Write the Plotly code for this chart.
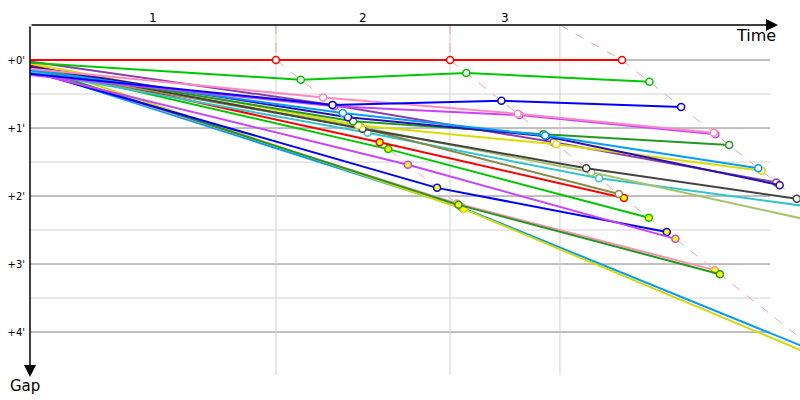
import plotly.graph_objects as go

# ---------------- data ----------------
# leader lap times (minutes) and lap boundary marks
lap_leader_times = [2.870, 4.901, 6.908]
lap_marks = [2.870, 4.901, 6.184]
lap_labels = ["1", "2", "3"]

tick_vals = [0, 1, 2, 3, 4]
tick_text = ["+0'", "+1'", "+2'", "+3'", "+4'"]

riders = ["R1", "R2", "R3", "R4", "R5", "R6", "R7", "R8", "R9", "R10", "R11",
          "R12", "R13", "R14", "R15", "R16", "R17", "R18", "R19", "R20", "R21", "R22"]
rider_colors = ["#ff0000", "#00c800", "#0000ff", "#ff88c4", "#c844ff", "#009cff",
                "#2a10b0", "#229922", "#dcdc00", "#8b40a8", "#444444", "#a4c46c",
                "#8a8a48", "#33c4cc", "#ff0000", "#00c800", "#c844ff", "#0000ff",
                "#229922", "#ff90b0", "#d8d800", "#009cff"]
marker_fill = ["white"] * 14 + ["#ffff00"] * 8
start_gap = [0.00, 0.04, 0.20, 0.13, 0.22, 0.15, 0.10, 0.12, 0.05, 0.02, 0.10,
             0.12, 0.14, 0.17, 0.08, 0.10, 0.18, 0.16, 0.10, 0.12, 0.04, 0.14]
gap_lap1 = [0.00, 0.29, 0.66, 0.55, 0.68, 0.78, 0.84, 0.90, 0.96, 0.66, 1.01,
            0.99, 1.00, 1.07, 1.21, 1.31, 1.54, 1.88, 2.13, 2.11, 2.19, 2.17]
gap_lap2 = [0.00, 0.19, 0.60, 0.79, 0.81, 1.11, 1.12, 1.09, 1.24, 1.21, 1.59,
            1.65, 1.97, 1.74, 2.03, 2.32, 2.63, 2.53, 3.15, 3.09, 4.46, 4.31]
gap_lap3 = [0.00, 0.32, 0.69, 1.07, 1.09, 1.59, 1.84, 1.25, 1.63, 1.80, 2.04,
            2.42, None, 2.15, None, None, None, None, None, None, None, None]

# ---------------- figure ----------------
X_MAX = 8.985
Y_TOP = -0.515
Y_BOT = 4.632
GRID_END = 8.635

fig = go.Figure()

# dashed lap lines: from the lap mark at the top, through the leader, to the last rider of that lap
for mark, lead, gaps in zip(lap_marks, lap_leader_times, [gap_lap1, gap_lap2, gap_lap3]):
    G = max(g for g in gaps if g is not None)
    fig.add_trace(go.Scatter(
        x=[mark, lead, lead + G], y=[Y_TOP, 0, G],
        mode="lines", line=dict(color="#ffa4a4", width=1, dash="dash"),
        hoverinfo="skip", showlegend=False))

# riders (drawn bottom-up so leaders are on top)
for i in reversed(range(len(riders))):
    xs = [0.0]
    ys = [start_gap[i]]
    for lead, g in zip(lap_leader_times, [gap_lap1[i], gap_lap2[i], gap_lap3[i]]):
        if g is None:
            break
        xs.append(lead + g)
        ys.append(g)
    op = [0] + [1] * (len(xs) - 1)
    fig.add_trace(go.Scatter(
        x=xs, y=ys, mode="lines+markers", name=riders[i],
        line=dict(color=rider_colors[i], width=2),
        marker=dict(size=7, color=marker_fill[i], opacity=op,
                    line=dict(color=rider_colors[i], width=1.5)),
        showlegend=False))

shapes = []
# horizontal grid
for v in [0.5, 1.5, 2.5, 3.5]:
    shapes.append(dict(type="line", xref="x", yref="y", x0=0, x1=GRID_END, y0=v, y1=v,
                       line=dict(color="#d3d3d3", width=1), layer="below"))
for v in tick_vals:
    shapes.append(dict(type="line", xref="x", yref="y", x0=0, x1=GRID_END, y0=v, y1=v,
                       line=dict(color="#808080", width=1), layer="below"))
# vertical lap marks
for m in lap_marks:
    shapes.append(dict(type="line", xref="x", yref="y", x0=m, x1=m, y0=Y_TOP, y1=Y_BOT,
                       line=dict(color="#d0d0d0", width=1), layer="below"))

annotations = []
# axis arrows (paper coordinates: plot area spans x 30..800 px, y 25..375 px)
annotations.append(dict(xref="paper", yref="paper", x=(778 - 30) / 770, y=1.0,
                        ax=-748, ay=0, axref="pixel", ayref="pixel", text="",
                        showarrow=True, arrowhead=2, arrowsize=1.6, arrowwidth=1.5,
                        arrowcolor="black", standoff=0))
annotations.append(dict(xref="paper", yref="paper", x=0.0, y=(375 - 377) / 350,
                        ax=0, ay=-352, axref="pixel", ayref="pixel", text="",
                        showarrow=True, arrowhead=2, arrowsize=1.6, arrowwidth=1.5,
                        arrowcolor="black", standoff=0))
annotations.append(dict(xref="paper", yref="paper", x=0.971, y=0.971, text="Time",
                        showarrow=False, xanchor="right", yanchor="middle",
                        font=dict(size=16, color="black", family="DejaVu Sans")))
annotations.append(dict(xref="paper", yref="paper", x=-0.0065, y=-0.03, text="Gap",
                        showarrow=False, xanchor="center", yanchor="middle",
                        font=dict(size=15, color="black", family="DejaVu Sans")))
prev = 0.0
for m, lab in zip(lap_marks, lap_labels):
    annotations.append(dict(xref="x", yref="paper", x=(prev + m) / 2, y=1.02, text=lab,
                            showarrow=False, xanchor="center", yanchor="middle",
                            font=dict(size=12, color="black", family="DejaVu Sans")))
    prev = m

fig.update_layout(
    width=800, height=400,
    margin=dict(l=30, r=0, t=25, b=25),
    paper_bgcolor="white", plot_bgcolor="white",
    xaxis=dict(range=[0, X_MAX], showgrid=False, zeroline=False, showticklabels=False,
               showline=False, ticks=""),
    yaxis=dict(range=[Y_BOT, Y_TOP], showgrid=False, zeroline=False, showline=False,
               tickvals=tick_vals, ticktext=tick_text, ticks="",
               tickfont=dict(size=10, color="black", family="DejaVu Sans"),
               ticklabelstandoff=4),
    shapes=shapes, annotations=annotations,
    showlegend=False,
)

fig.write_html("out.html", config={"displayModeBar": False},
               post_script="document.body.style.margin='0px';document.body.style.overflow='hidden';")
